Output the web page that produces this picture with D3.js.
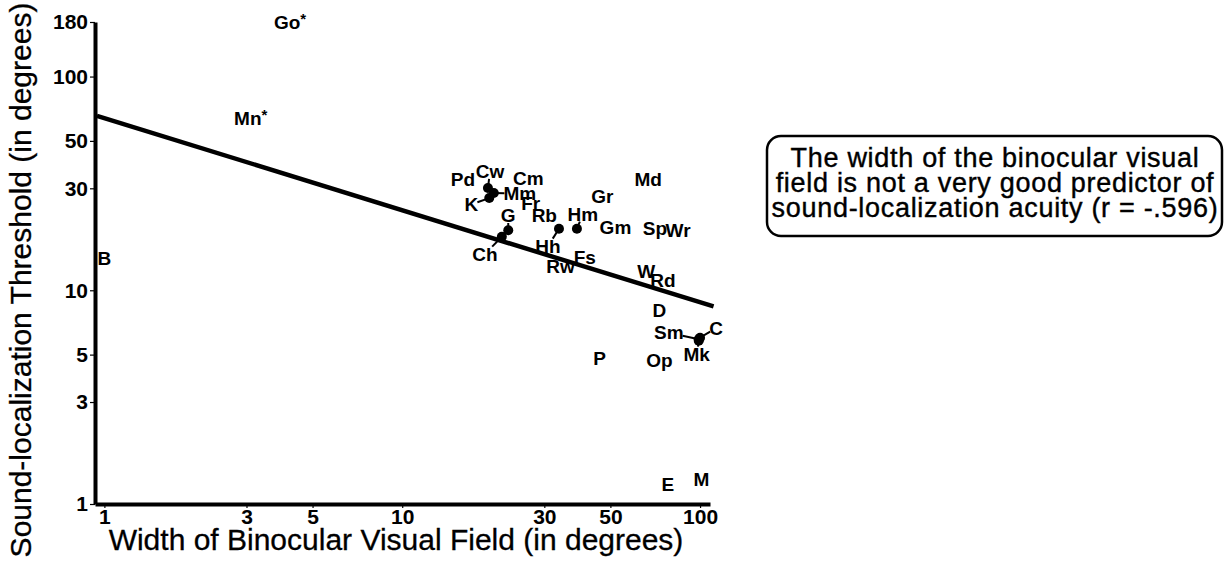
<!DOCTYPE html>
<html>
<head>
<meta charset="utf-8">
<script src="https://cdn.jsdelivr.net/npm/d3@7"></script>
<style>
  html, body { margin: 0; padding: 0; background: #fff; }
  svg { display: block; }
</style>
</head>
<body>
<div id="chart"></div>
<script>
// species plotted as their own label (label sits on the value)
const labelNames = ["Go*", "Mn*", "B", "Pd", "Cm", "Fr", "Rb", "Gr", "Md", "Gm", "Sp", "Wr",
  "Fs", "Rw", "W", "Rd", "D", "P", "Op", "E", "M"];
const labelField = [4.2, 3.1, 1.0, 16, 26.5, 27, 30, 47, 67, 52, 70.6, 84.4,
  41, 34, 66, 75, 73, 46, 73, 78, 101];
const labelThreshold = [180, 64, 14.2, 33, 33.5, 25.6, 22.5, 27.6, 33, 19.8, 19.6, 19.1,
  14.3, 12.9, 12.3, 11.2, 8.1, 4.8, 4.7, 1.24, 1.3];

// species drawn as dots with a leader to the label
const dotNames = ["Cw", "K", "Mm", "G", "Ch", "Hh", "Hm", "Sm", "C", "Mk"];
const dotField = [19.4, 19.6, 20.3, 22.7, 21.6, 33.6, 38.6, 99, 100, 99];
const dotThreshold = [30.1, 27, 28.5, 19.1, 17.8, 19.4, 19.4, 5.9, 6.0, 5.8];

// regression line end points
const trendField = [0.944, 111];
const trendThreshold = [65.5, 8.4];

const xTicks = [1, 3, 5, 10, 30, 50, 100];
const yTicks = [1, 3, 5, 10, 30, 50, 100, 180];

const noteLines = [
  "The width of the binocular visual",
  "field is not a very good predictor of",
  "sound-localization acuity (r = -.596)"
];

// label placement around dots (pixels), layout only
const leaderOffset = {
  Cw: [2, -17], K: [-18, 6], Mm: [26, 0], G: [0, -15], Ch: [-17, 17],
  Hh: [-11, 17], Hm: [6, -15], Sm: [-30, -7], C: [16, -10], Mk: [-2, 13]
};

const W = 1226, H = 567;
const font = "'Liberation Sans', Arial, Helvetica, sans-serif";

const svg = d3.select("#chart").append("svg")
  .attr("width", W).attr("height", H)
  .style("background", "#fff");

const x = d3.scaleLog().domain([0.93, 108]).range([95, 710]);
const y = d3.scaleLog().domain([1, 180]).range([504, 22]);

// axes
const xAxis = svg.append("g")
  .attr("transform", `translate(0, ${y(1)})`)
  .call(d3.axisBottom(x).tickValues(xTicks).tickFormat(d3.format("d")).tickSize(4).tickSizeOuter(0));
const yAxis = svg.append("g")
  .attr("transform", `translate(${x(0.93)}, 0)`)
  .call(d3.axisLeft(y).tickValues(yTicks).tickFormat(d3.format("d")).tickSize(5).tickSizeOuter(0));

[xAxis, yAxis].forEach((a) => {
  a.select(".domain").attr("stroke", "#000").attr("stroke-width", 4);
  a.selectAll(".tick line").attr("stroke", "#000").attr("stroke-width", 1.2);
  a.selectAll(".tick text")
    .attr("font-family", font)
    .attr("font-size", 21)
    .attr("font-weight", "bold")
    .attr("fill", "#000");
});
xAxis.selectAll(".tick text").attr("y", 5).attr("dy", "0.7em");
yAxis.selectAll(".tick text").attr("x", -7);

// regression line
const trend = trendField.map((d, i) => ({ x: d, y: trendThreshold[i] }));
svg.append("path")
  .datum(trend)
  .attr("d", d3.line().x((d) => x(d.x)).y((d) => y(d.y)))
  .attr("stroke", "#000")
  .attr("stroke-width", 4.5)
  .attr("fill", "none");

const labelGroup = svg.append("g")
  .attr("font-family", font)
  .attr("font-size", 19)
  .attr("font-weight", "bold")
  .attr("text-anchor", "middle")
  .attr("fill", "#000");

// plain labels
const plain = labelNames.map((n, i) => ({ name: n, x: labelField[i], y: labelThreshold[i] }));
labelGroup.selectAll("text.plain")
  .data(plain)
  .join("text")
  .attr("class", "plain")
  .attr("x", (d) => x(d.x))
  .attr("y", (d) => y(d.y))
  .attr("dy", "0.36em")
  .each(function (d) {
    const t = d3.select(this);
    if (d.name.endsWith("*")) {
      t.append("tspan").text(d.name.slice(0, -1));
      t.append("tspan").attr("dy", "-0.3em").attr("font-size", 15).text("*");
    } else {
      t.text(d.name);
    }
  });

// dots with leaders
const dots = dotNames.map((n, i) => ({ name: n, x: dotField[i], y: dotThreshold[i] }));
const dotText = labelGroup.selectAll("text.dot")
  .data(dots)
  .join("text")
  .attr("class", "dot")
  .attr("x", (d) => x(d.x) + leaderOffset[d.name][0])
  .attr("y", (d) => y(d.y) + leaderOffset[d.name][1])
  .attr("dy", "0.36em")
  .text((d) => d.name);

dotText.each(function (d) {
  const b = this.getBBox();
  const x0 = x(d.x), y0 = y(d.y);
  const cx = b.x + b.width / 2, cy = b.y + b.height / 2;
  const dx = cx - x0, dy = cy - y0;
  // clip the leader at the label's box
  const hw = b.width / 2 - 1, hh = b.height / 2 - 3;
  const tx = dx !== 0 ? hw / Math.abs(dx) : Infinity;
  const ty = dy !== 0 ? hh / Math.abs(dy) : Infinity;
  const f = Math.max(0, 1 - Math.min(tx, ty));
  svg.append("line")
    .attr("x1", x0).attr("y1", y0)
    .attr("x2", x0 + dx * f).attr("y2", y0 + dy * f)
    .attr("stroke", "#000").attr("stroke-width", 2);
});

svg.append("g")
  .selectAll("circle")
  .data(dots)
  .join("circle")
  .attr("cx", (d) => x(d.x))
  .attr("cy", (d) => y(d.y))
  .attr("r", 5)
  .attr("fill", "#000");

// axis titles
svg.append("text")
  .attr("x", 396).attr("y", 550)
  .attr("text-anchor", "middle")
  .attr("font-family", font).attr("font-size", 30)
  .attr("fill", "#000").attr("stroke", "#000").attr("stroke-width", 0.3)
  .text("Width of Binocular Visual Field (in degrees)");

svg.append("text")
  .attr("transform", "translate(31, 280) rotate(-90)")
  .attr("text-anchor", "middle")
  .attr("font-family", font).attr("font-size", 30)
  .attr("fill", "#000").attr("stroke", "#000").attr("stroke-width", 0.3)
  .text("Sound-localization Threshold (in degrees)");

// note box
svg.append("rect")
  .attr("x", 767).attr("y", 136)
  .attr("width", 455).attr("height", 100)
  .attr("rx", 14)
  .attr("fill", "#fff")
  .attr("stroke", "#000").attr("stroke-width", 2.5);

svg.append("g")
  .attr("font-family", font).attr("font-size", 27)
  .attr("letter-spacing", 0.7)
  .attr("text-anchor", "middle").attr("fill", "#000")
  .attr("stroke", "#000").attr("stroke-width", 0.4)
  .selectAll("text")
  .data(noteLines)
  .join("text")
  .attr("x", 995)
  .attr("y", (d, i) => 167 + i * 25)
  .text((d) => d);
</script>
</body>
</html>
